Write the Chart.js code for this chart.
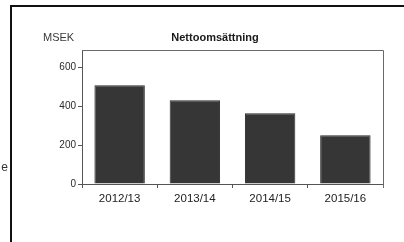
<!DOCTYPE html>
<html>
<head>
<meta charset="utf-8">
<script src="https://cdn.jsdelivr.net/npm/chart.js@4"></script>
<style>
  html, body { margin: 0; padding: 0; background: #fff; }
  #wrap { width: 404px; height: 242px; }
</style>
</head>
<body>
<div id="wrap"><canvas id="chart" width="404" height="242"></canvas></div>
<script>
// Chart data
const years = ["2012/13", "2013/14", "2014/15", "2015/16"];
const netSales = [508, 431, 364, 251];
const yTicks = [0, 200, 400, 600];
const titleText = "Nettoomsättning";
const unitText = "MSEK";

// Draws the scanned page frame, the unit label, the title and the plot box
const decorations = {
  id: "decorations",
  beforeDraw(chart) {
    const ctx = chart.ctx;
    ctx.save();
    ctx.fillStyle = "#fff";
    ctx.fillRect(0, 0, chart.width, chart.height);
    ctx.restore();
  },
  afterDraw(chart) {
    const ctx = chart.ctx;
    const area = chart.chartArea;
    ctx.save();

    // page frame
    ctx.strokeStyle = "#111";
    ctx.lineWidth = 2;
    ctx.beginPath();
    ctx.moveTo(11, 242);
    ctx.lineTo(11, 6);
    ctx.lineTo(404, 6);
    ctx.stroke();

    // cut off letter on the left edge
    ctx.fillStyle = "#333";
    ctx.font = "12px 'Liberation Sans', Arial, sans-serif";
    ctx.textAlign = "right";
    ctx.textBaseline = "middle";
    ctx.fillText("e", 8, 168);

    // plot box (top and right side)
    ctx.strokeStyle = "#6a6a6a";
    ctx.lineWidth = 1;
    ctx.beginPath();
    ctx.moveTo(area.left, area.top + 0.5);
    ctx.lineTo(area.right + 0.5, area.top + 0.5);
    ctx.lineTo(area.right + 0.5, area.bottom + 4);
    ctx.stroke();

    // unit and title
    ctx.fillStyle = "#3a3a3a";
    ctx.textAlign = "left";
    ctx.textBaseline = "alphabetic";
    ctx.font = "11px 'Liberation Sans', Arial, sans-serif";
    ctx.fillText(unitText, 43, 41);
    ctx.fillStyle = "#1a1a1a";
    ctx.textAlign = "center";
    ctx.font = "bold 11px 'Liberation Sans', Arial, sans-serif";
    ctx.fillText(titleText, 215, 41);

    ctx.restore();
  },
};

new Chart(document.getElementById("chart"), {
  type: "bar",
  data: {
    labels: years,
    datasets: [
      {
        data: netSales,
        backgroundColor: "#363636",
        borderColor: "#2a2a2a",
        borderWidth: 1,
        barPercentage: 0.67,
        categoryPercentage: 1,
      },
    ],
  },
  options: {
    responsive: false,
    devicePixelRatio: 1,
    animation: false,
    layout: { padding: { top: 50, right: 21, left: 0, bottom: 0 } },
    plugins: {
      legend: { display: false },
      title: { display: false },
      tooltip: { enabled: false },
    },
    scales: {
      x: {
        offset: true,
        grid: {
          offset: true,
          drawOnChartArea: false,
          tickLength: 4,
          color: "#555",
        },
        border: { color: "#555" },
        ticks: {
          color: "#222",
          padding: 4,
          font: { family: "'Liberation Sans', Arial, sans-serif", size: 11.5 },
        },
        afterFit(scale) {
          scale.height = 58;
        },
      },
      y: {
        min: 0,
        max: 690,
        afterBuildTicks(scale) {
          scale.ticks = yTicks.map((v) => ({ value: v }));
        },
        grid: {
          drawOnChartArea: false,
          tickLength: 4,
          color: "#555",
        },
        border: { color: "#555" },
        ticks: {
          color: "#2a2a2a",
          padding: 2,
          font: { family: "'Liberation Sans', Arial, sans-serif", size: 10 },
        },
        afterFit(scale) {
          scale.width = 82;
        },
      },
    },
  },
  plugins: [decorations],
});
</script>
</body>
</html>
